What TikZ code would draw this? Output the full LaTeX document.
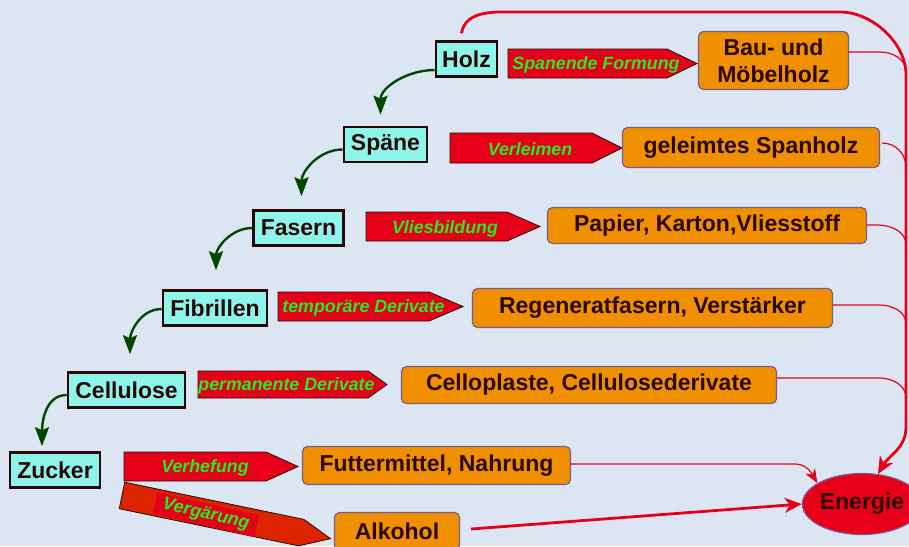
\documentclass[tikz,border=0pt]{standalone}
\usepackage{fontspec}
\setmainfont{Liberation Sans}
\usetikzlibrary{shapes.geometric, arrows.meta}
\usepackage{xcolor}

\definecolor{hgrund}{HTML}{DCE6F2}
\definecolor{tuerkis}{HTML}{8EF5EA}
\definecolor{kasten}{HTML}{2A0808}
\definecolor{orangebox}{HTML}{F08F00}
\definecolor{lila}{HTML}{7A5C8C}
\definecolor{rot}{HTML}{E8001A}
\definecolor{rotdunkel}{HTML}{DD2400}
\definecolor{hellgruen}{HTML}{22EE22}
\definecolor{dgruen}{HTML}{004800}

\tikzset{
  stoff/.style={draw=kasten, line width=2.6pt, fill=tuerkis, text=kasten,
    minimum height=35pt, inner sep=0pt, font=\fontsize{23}{26}\selectfont\bfseries},
  produkt/.style={draw=lila, line width=1.2pt, fill=orangebox, text=kasten,
    rounded corners=5pt, inner sep=0pt, align=center,
    font=\fontsize{23}{27}\selectfont\bfseries},
  pfeilform/.style={fill=rot, draw=kasten, line width=0.8pt},
  verfahren/.style={text=hellgruen, inner sep=0pt, yshift=-1.5pt,
    font=\fontsize{17.8}{20}\selectfont\bfseries\itshape},
  weg/.style={draw=dgruen, line width=2.4pt, -{Stealth[length=19pt,width=14pt,inset=3pt]}},
  strom/.style={draw=rot, line width=1.2pt},
  hauptstrom/.style={draw=rot, line width=2.8pt},
  spitze/.style={-{Stealth[length=17pt,width=15pt,inset=5pt]}}
}

% Pfeil: links oben (x,y), Laenge, Hoehe, Spitze
\newcommand{\pfeil}[6][]{%
  \filldraw[pfeilform, #1] (#2,#3) -- ++(#4-#6,0) -- ++(#6,#5/2) -- ++(-#6,#5/2) -- ++(#6-#4,0) -- cycle;}

\begin{document}
\begin{tikzpicture}[x=1pt, y=-1pt]
  \fill[hgrund] (0,0) rectangle (909,546);
  \useasboundingbox (0,0) rectangle (909,546);

  % Stoffe
  \node[stoff, minimum width=61pt]  (holz)      at (466.5,59)  {Holz};
  \node[stoff, minimum width=83pt]  (spaene)    at (385.5,144.5) {Späne};
  \node[stoff, minimum width=90pt]  (fasern)    at (298.5,228) {Fasern};
  \node[stoff, minimum width=104pt] (fibrillen) at (215,308)   {Fibrillen};
  \node[stoff, minimum width=117pt] (cellulose) at (126.5,390) {Cellulose};
  \node[stoff, minimum width=90pt]  (zucker)    at (55,470)    {Zucker};

  % Verfahren
  \pfeil{508}{49}{189}{29}{30}
  \node[verfahren] (formung) at (596,63.5) {Spanende Formung};
  \pfeil{450}{133}{172}{30}{30}
  \node[verfahren] (leimen) at (530,148) {Verleimen};
  \pfeil{366}{212}{174}{29}{33}
  \node[verfahren] (vlies) at (445,227) {Vliesbildung};
  \pfeil{278}{292}{185}{29}{34}
  \node[verfahren] (temp) at (363.5,306.5) {temporäre Derivate};
  \pfeil{198}{371}{189}{27}{19}
  \node[verfahren] (perm) at (286.5,384.5) {permanente Derivate};
  \pfeil{124}{452}{174}{29}{32}
  \node[verfahren] (hefe) at (205,466.5) {Verhefung};
  \begin{scope}[shift={(122,495.5)}, rotate=-11.7]
    \pfeil[fill=rotdunkel]{0}{-13.5}{213}{27}{30}
  \end{scope}
  \node[verfahren, fill=rot, rotate=-13, inner xsep=8pt, inner ysep=3pt] (gaerung) at (206,513) {Vergärung};

  % Produkte
  \node[produkt, minimum width=150pt, minimum height=58pt] (moebel)  at (773.5,60.5) {Bau- und\\Möbelholz};
  \node[produkt, minimum width=257pt, minimum height=40pt] (spanholz) at (751,147.5) {geleimtes Spanholz};
  \node[produkt, minimum width=319pt, minimum height=36pt] (papier)  at (707,225.5) {Papier, Karton,Vliesstoff};
  \node[produkt, minimum width=360pt, minimum height=39pt] (regen)   at (652.5,308) {Regeneratfasern, Verstärker};
  \node[produkt, minimum width=375pt, minimum height=37pt] (cello)   at (589,385)   {Celloplaste, Cellulosederivate};
  \node[produkt, minimum width=268pt, minimum height=38pt] (futter)  at (436.5,465.5) {Futtermittel, Nahrung};
  \node[produkt, minimum width=125pt, minimum height=38pt] (alkohol) at (397,531.5) {Alkohol};

  \node[ellipse, fill=rot, draw=lila, line width=1.2pt, minimum width=118pt, minimum height=61pt,
    inner sep=0pt, text=kasten, font=\fontsize{23}{26}\selectfont\bfseries] (energie) at (862,504) {Energie};

  % Abbau nach unten
  \draw[weg] ([yshift=-11pt]holz.west) to[out=180,in=90] ([xshift=-5pt,yshift=11pt]spaene.north);
  \draw[weg] ([yshift=-5pt]spaene.west) to[out=180,in=90] ([xshift=3pt,yshift=13pt]fasern.north);
  \draw[weg] ([yshift=0pt]fasern.west) to[out=180,in=90] ([xshift=1pt,yshift=19pt]fibrillen.north);
  \draw[weg] ([yshift=-1pt]fibrillen.west) to[out=180,in=90] ([xshift=3.5pt,yshift=17pt]cellulose.north);
  \draw[weg] ([yshift=-5pt]cellulose.west) to[out=180,in=90] ([xshift=-13pt,yshift=5pt]zucker.north);

  % Energie
  \coordinate (k1) at (906,72);
  \coordinate (k2) at (906,167);
  \coordinate (k3) at (906,245);
  \coordinate (k4) at (906,324);
  \coordinate (k5) at (906,398);
  \draw[hauptstrom, spitze] ([xshift=-5pt,yshift=7pt]holz.north) to[out=80,in=180] (520,12)
    -- (840,12) to[out=0,in=90, looseness=0.9] (906,75) -- (906,427) to[out=-90,in=60] (energie.62);
  \draw[strom] ([yshift=8.5pt]moebel.east) -- ++(31,0) to[out=0,in=90] (k1);
  \draw[strom] ([xshift=2pt,yshift=4.5pt]spanholz.east) to[out=0,in=90] (k2);
  \draw[strom] ([yshift=0.5pt]papier.east) -- ++(10,0) to[out=0,in=90] (k3);
  \draw[strom] ([yshift=3pt]regen.east) -- ++(46,0) to[out=0,in=90] (k4);
  \draw[strom] ([yshift=7pt]cello.east) -- ++(102,0) to[out=0,in=90] (k5);
  \draw[strom, -{Stealth[length=14pt,width=11pt,inset=4pt]}] ([yshift=1.5pt]futter.east) -- (795,464)
    to[out=0,in=120] (energie.155);
  \draw[hauptstrom, spitze] ([xshift=11pt,yshift=2.5pt]alkohol.east) -- (energie.west);
\end{tikzpicture}
\end{document}
